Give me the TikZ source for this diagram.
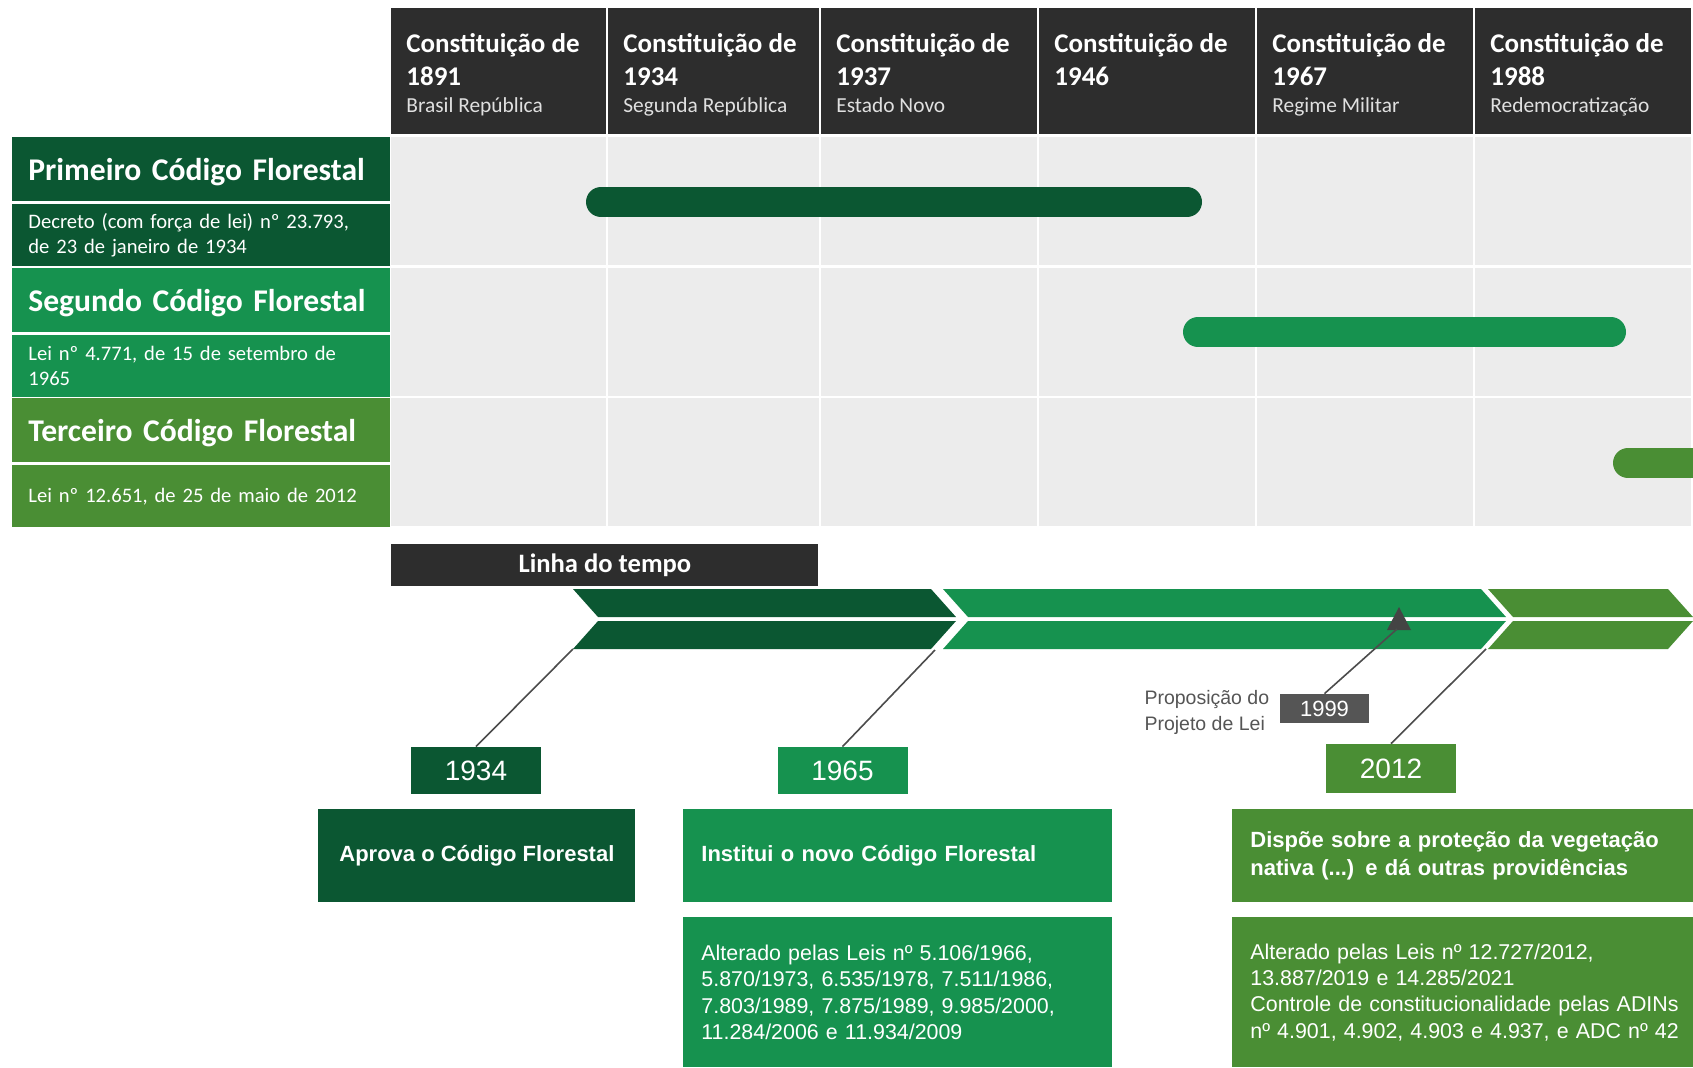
\documentclass[tikz,border=0pt]{standalone}
\usepackage{fontspec}
\setmainfont{Carlito}
\newfontfamily\rob{Liberation Sans}
\usetikzlibrary{positioning}

\definecolor{escuro}{HTML}{2D2D2D}
\definecolor{verdeA}{HTML}{0B5732}
\definecolor{verdeB}{HTML}{16924F}
\definecolor{verdeC}{HTML}{4A8E34}
\definecolor{fundo}{HTML}{ECECEC}
\definecolor{cinzaA}{HTML}{555555}

\newcommand{\tam}[2]{\fontsize{#1}{#2}\selectfont}

\tikzset{
  cab/.style={fill=escuro, anchor=north west, minimum height=63pt, inner sep=0pt},
  cabtxt/.style={anchor=north west, align=left, inner sep=0pt, text=white, font=\tam{13.5}{16.5}\bfseries},
  titulo/.style={anchor=north west, minimum height=32pt, text width=173pt, inner xsep=8pt, inner ysep=0pt, align=left, text=white, font=\tam{15.8}{19}\bfseries},
  descr/.style={anchor=north west, minimum height=31pt, text width=173pt, inner xsep=8pt, inner ysep=0pt, align=left, text=white, font=\tam{10.3}{12.5}},
  ano/.style={minimum width=65pt, minimum height=23.5pt, inner sep=0pt, text=white, font=\rob\tam{14}{16}},
  caixa/.style={anchor=north west, minimum height=46.5pt, inner xsep=9pt, inner ysep=0pt, align=left, text=white, font=\rob\tam{11}{14}\bfseries},
  lista/.style={anchor=north west, minimum height=75pt, inner xsep=9pt, inner ysep=0pt, align=left, text=white, font=\rob\tam{10.7}{13.2}},
  liga/.style={draw=black!70, line width=0.8pt},
  barra/.style={line width=15pt, line cap=round},
}

\begin{document}
\begin{tikzpicture}[x=0.5pt,y=-0.5pt]
  \useasboundingbox (0,0) rectangle (1693,1067);
  \clip (0,0) rectangle (1693,1067);
  \fill[white] (0,0) rectangle (1693,1067);

  % cabecalho das constituicoes
  \foreach \x/\w/\ano/\sub in {391/215/1891/Brasil República, 608/211/1934/Segunda República, 821/216/1937/Estado Novo, 1039/216/1946/, 1257/216/1967/Regime Militar, 1475/216/1988/Redemocratização}{
    \node[cab, minimum width=\w/2] (c\ano) at (\x,8) {};
    \node[cabtxt] (t\ano) at (\x+15,33) {Constituição de\\\ano\\[-3pt]{\tam{10.7}{13}\mdseries\color{white!88!black}\sub}};
    % grade cinza
    \foreach \j in {0,1,2}
      \fill[fundo] (\x,{137+130.5*\j}) rectangle ++(\w,128);
  }

  % rotulos da esquerda
  \node[titulo, fill=verdeA, text depth=0pt] (prim) at (12,137) {Primeiro Código Florestal};
  \node[descr, fill=verdeA] (primd) at (12,204) {Decreto (com força de lei) nº 23.793,\\de 23 de janeiro de 1934};
  \node[titulo, fill=verdeB, text depth=0pt] (seg) at (12,268) {Segundo Código Florestal};
  \node[descr, fill=verdeB] (segd) at (12,335) {Lei nº 4.771, de 15 de setembro de\\1965};
  \node[titulo, fill=verdeC, text depth=0pt] (terc) at (12,398) {Terceiro Código Florestal};
  \node[descr, fill=verdeC] (tercd) at (12,465) {Lei nº 12.651, de 25 de maio de 2012};

  % barras de vigencia
  \draw[barra, verdeA] (601,202) -- (1187,202);
  \draw[barra, verdeB] (1198,332) -- (1611,332);
  \draw[barra, verdeC] (1628,463) -- (1720,463);

  % linha do tempo
  \node[fill=escuro, anchor=north west, minimum width=213.5pt, minimum height=21pt, inner sep=0pt, text=white, font=\tam{13.3}{15}\bfseries] (linha) at (391,544) {Linha do tempo};

  \foreach \L/\R/\cor in {573/931/verdeA, 943/1481/verdeB, 1488/1668/verdeC}{
    \fill[\cor] (\L,589) -- (\R,589) -- (\R+25,617) -- (\L+25,617) -- cycle;
    \fill[\cor] (\L+25,621) -- (\R+25,621) -- (\R,649) -- (\L,649) -- cycle;
  }
  \fill[cinzaA!80!black] (1387,630) -- (1399,607) -- (1411,630) -- cycle;

  \coordinate (p1934) at (573,649);
  \coordinate (p1965) at (935,650);
  \coordinate (p1999) at (1397,629);
  \coordinate (p2012) at (1486,649);

  % anos
  \node[ano, fill=verdeA] (a1934) at (476,770.5) {1934};
  \node[ano, fill=verdeB] (a1965) at (842.5,770.5) {1965};
  \node[ano, fill=verdeC, minimum height=24.5pt] (a2012) at (1391,768.5) {2012};
  \node[ano, fill=cinzaA, minimum width=44.5pt, minimum height=14.5pt, font=\rob\tam{11}{13}] (a1999) at (1324.5,708.5) {1999};
  \node[left=5pt of a1999, yshift=-2pt, align=left, inner sep=0pt, text=cinzaA, font=\rob\tam{9.75}{13}] (prop) {Proposição do\\Projeto de Lei};

  \draw[liga] (a1934.north) -- (p1934);
  \draw[liga] (a1965.north) -- (p1965);
  \draw[liga] (a1999.north) -- (p1999);
  \draw[liga] (a2012.north) -- (p2012);

  % caixas de descricao
  \node[caixa, fill=verdeA, minimum width=158.5pt, align=center] (aprova) at (318,809) {Aprova o Código Florestal};
  \node[caixa, fill=verdeB, text width=196.5pt] (institui) at (683,809) {Institui o novo Código Florestal};
  \node[lista, fill=verdeB, text width=196.5pt] (alt1965) at (683,917) {Alterado pelas Leis nº 5.106/1966,\\5.870/1973, 6.535/1978, 7.511/1986,\\7.803/1989, 7.875/1989, 9.985/2000,\\11.284/2006 e 11.934/2009};
  \node[caixa, fill=verdeC, text width=222pt] (dispoe) at (1232,809) {Dispõe sobre a proteção da vegetação\\nativa (...) e dá outras providências};
  \node[lista, fill=verdeC, text width=222pt] (alt2012) at (1232,917) {Alterado pelas Leis nº 12.727/2012,\\13.887/2019 e 14.285/2021\\Controle de constitucionalidade pelas ADINs\\nº 4.901, 4.902, 4.903 e 4.937, e ADC nº 42};
\end{tikzpicture}
\end{document}
